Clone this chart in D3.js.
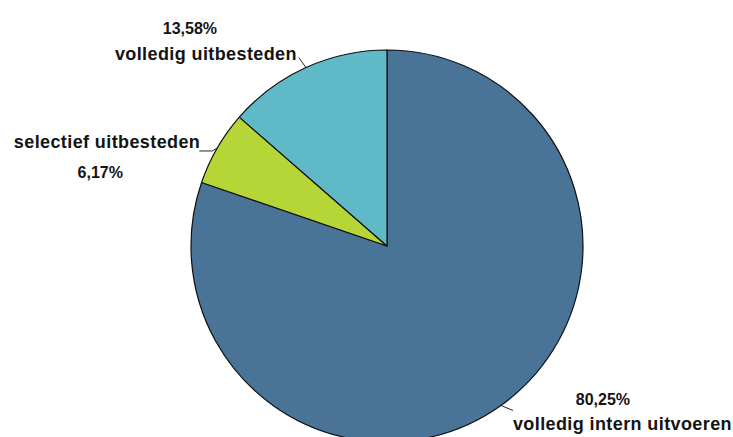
<!DOCTYPE html>
<html>
<head>
<meta charset="utf-8">
<script src="https://cdn.jsdelivr.net/npm/d3@7"></script>
<style>
  html, body { margin: 0; padding: 0; background: #fff; }
  svg { display: block; }
  text { font-family: "Liberation Sans", Arial, sans-serif; font-weight: bold; fill: #141414; }
</style>
</head>
<body>
<svg id="chart" width="733" height="437"></svg>
<script>
// Slices in drawing order, clockwise from 12 o'clock
const categories = ["volledig intern uitvoeren", "selectief uitbesteden", "volledig uitbesteden"];
const percentages = [80.25, 6.17, 13.58];
const percentLabels = ["80,25%", "6,17%", "13,58%"];
const colors = ["#4a7398", "#b6d536", "#5fb9c6"];

const cx = 387, cy = 246, radius = 196;

const svg = d3.select("#chart");
const g = svg.append("g").attr("transform", `translate(${cx},${cy})`);

const pie = d3.pie().sort(null).value(d => d.value);
const arcs = pie(categories.map((c, i) => ({ name: c, value: percentages[i], label: percentLabels[i], color: colors[i] })));

const arc = d3.arc().innerRadius(0).outerRadius(radius);

g.selectAll("path.slice")
  .data(arcs)
  .join("path")
  .attr("class", "slice")
  .attr("d", arc)
  .attr("fill", d => d.data.color)
  .attr("stroke", "#111")
  .attr("stroke-width", 1.2)
  .attr("stroke-linejoin", "round");

// Leader bends (relative to the slice's mid-edge point) and text offsets
// (relative to the leader's free end) for each label.
const labelLayout = [
  { bends: [[12, 5]],            name: { dx: 0,   dy: 20, anchor: "start" }, pct: { dx: 90,  dy: -5 } },
  { bends: [[-5, 3], [-18, 3]],  name: { dx: 1,   dy: -3, anchor: "end" },   pct: { dx: -99, dy: 27 } },
  { bends: [[-7, -10]],          name: { dx: -2,  dy: 2,  anchor: "end" },   pct: { dx: -109, dy: -24 } }
];

arcs.forEach((a, i) => {
  const L = labelLayout[i];
  const mid = (a.startAngle + a.endAngle) / 2;
  const sx = Math.sin(mid) * radius, sy = -Math.cos(mid) * radius;
  const pts = [[sx, sy], ...L.bends.map(([bx, by]) => [sx + bx, sy + by])];
  g.append("path")
    .attr("d", d3.line()(pts))
    .attr("fill", "none")
    .attr("stroke", "#222")
    .attr("stroke-width", 1);

  const [ex, ey] = pts[pts.length - 1];
  g.append("text")
    .attr("font-size", 18)
    .attr("letter-spacing", 0.4)
    .attr("text-anchor", L.name.anchor)
    .attr("x", ex + L.name.dx)
    .attr("y", ey + L.name.dy)
    .text(a.data.name);
  g.append("text")
    .attr("font-size", 16)
    .attr("text-anchor", "middle")
    .attr("x", ex + L.pct.dx)
    .attr("y", ey + L.pct.dy)
    .text(a.data.label);
});
</script>
</body>
</html>
